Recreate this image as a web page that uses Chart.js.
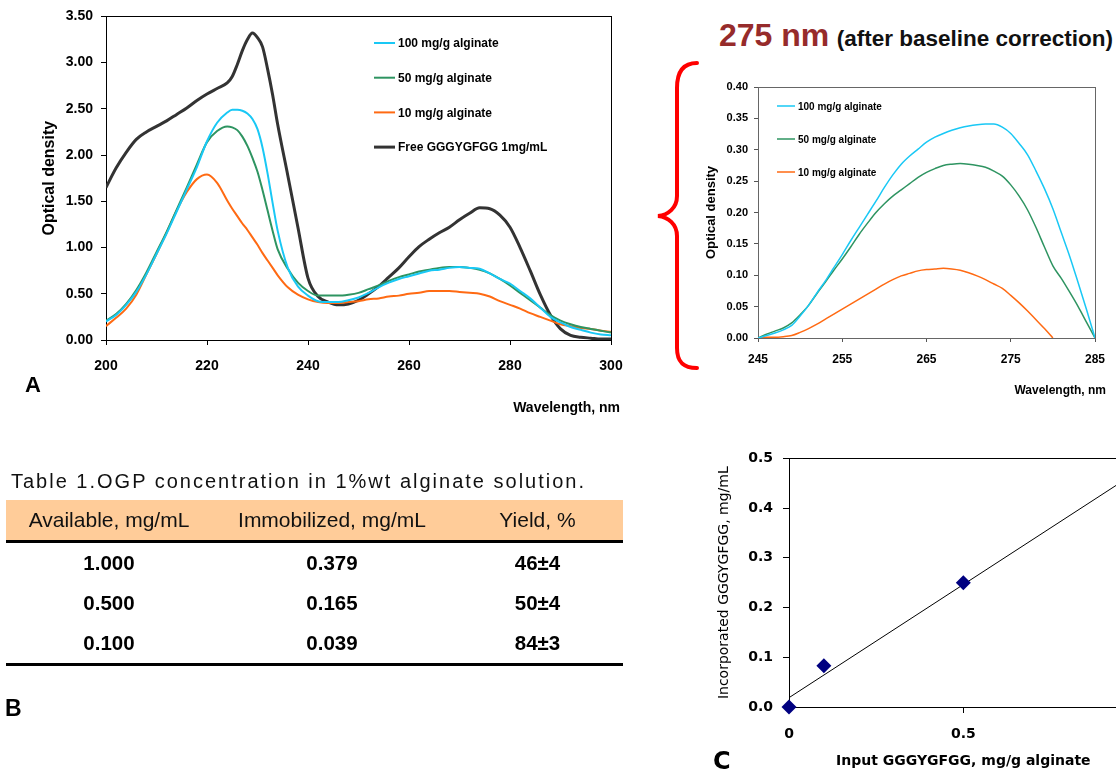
<!DOCTYPE html>
<html>
<head>
<meta charset="utf-8">
<title>OGP absorbance and incorporation in alginate</title>
<script src="https://cdn.jsdelivr.net/npm/chart.js"></script>
<style>
  html, body { margin: 0; padding: 0; overflow: hidden; }
  body { width: 1116px; height: 773px; position: relative; background: #fff;
         font-family: "Liberation Sans", Arial, sans-serif; color: #000; }
  canvas, .abs { position: absolute; }
  .panel { font-weight: bold; }
  #heading { left: 719px; top: 19px; line-height: 1; white-space: nowrap; font-weight: bold; }
  #heading .nm { color: #962b2b; font-size: 32px; margin-right: 3px; }
  #heading .rest { font-size: 22.5px; color: #111; }
  .xtitle { font-weight: bold; text-align: right; white-space: nowrap; }
  #tblTitle { left: 11px; top: 470px; font-size: 20px; letter-spacing: 2px; color: #111; white-space: nowrap; }
  #tbl { position: absolute; left: 6px; top: 500px; width: 617px; border-collapse: collapse; table-layout: fixed; }
  #tbl th { background: #ffcc99; height: 40px; padding: 0; font-weight: normal; font-size: 21px;
            border-bottom: 3px solid #000; text-align: center; color: #111; }
  #tbl td { height: 40px; padding: 0; text-align: center; font-weight: bold; font-size: 20.5px; }
  #tbl tbody tr:last-child td { border-bottom: 3px solid #000; }
</style>
</head>
<body>

<canvas id="spectrumChart" width="640" height="420" style="left:0;top:0"></canvas>
<canvas id="correctedChart" width="416" height="330" style="left:700px;top:70px"></canvas>
<canvas id="incorpChart" width="463" height="333" style="left:700px;top:440px"></canvas>

<div class="abs xtitle" style="left:480px;top:399px;width:140px;font-size:14px;line-height:16px">Wavelength, nm</div>
<div class="abs xtitle" style="left:986px;top:383px;width:120px;font-size:12px;line-height:14px">Wavelength, nm</div>

<div id="heading" class="abs"><span class="nm">275 nm</span> <span class="rest">(after baseline correction)</span></div>

<svg class="abs" style="left:0;top:0" width="1116" height="773">
  <path d="M697,63 C683,63 677,72 677,88 L677,196 C677,208 668,215 658,216 C668,217 677,224 677,236 L677,348 C677,362 683,368 697,368"
        fill="none" stroke="#ff0000" stroke-width="4" stroke-linecap="round"/>
</svg>

<div class="abs panel" style="left:25px;top:372px;font-size:22px">A</div>
<div class="abs panel" style="left:5px;top:695px;font-size:23px">B</div>
<div class="abs panel" style="left:713px;top:747px;font-size:24px;font-family:'DejaVu Sans',sans-serif">C</div>

<div id="tblTitle" class="abs">Table 1.OGP concentration in 1%wt alginate solution.</div>
<table id="tbl">
  <colgroup><col style="width:206px"><col style="width:240px"><col style="width:171px"></colgroup>
  <thead><tr><th>Available, mg/mL</th><th>Immobilized, mg/mL</th><th>Yield, %</th></tr></thead>
  <tbody id="tblBody"></tbody>
</table>

<script>
// ---- panel A: full UV spectra ----
var wavelengthA = [200,202,204,206,208,210,212,214,216,218,220,222,224,
                   225,226,227,228,229,230,231,232,233,234,
                   236,238,240,242,244,246,248,250,252,254,256,258,260,262,264,266,268,
                   270,272,274,276,278,280,282,284,286,288,290,292,294,296,298,300];
var od100 = [0.20,0.27,0.38,0.52,0.71,0.93,1.15,1.39,1.63,1.87,2.15,2.35,2.46,
             2.49,2.49,2.48,2.45,2.39,2.28,2.08,1.80,1.48,1.18,
             0.78,0.58,0.48,0.42,0.41,0.41,0.43,0.46,0.51,0.57,0.62,0.66,0.69,0.72,0.75,0.76,0.78,
             0.79,0.78,0.77,0.72,0.66,0.61,0.53,0.45,0.35,0.25,0.19,0.14,0.11,0.08,0.06,0.05];
var od50 = [0.21,0.28,0.39,0.54,0.73,0.95,1.17,1.41,1.65,1.90,2.14,2.26,2.31,
            2.30,2.27,2.20,2.10,1.97,1.82,1.62,1.40,1.18,0.98,
            0.77,0.62,0.53,0.48,0.48,0.48,0.49,0.51,0.55,0.59,0.64,0.68,0.71,0.74,0.76,0.78,0.79,
            0.79,0.78,0.76,0.72,0.66,0.59,0.51,0.43,0.35,0.27,0.21,0.17,0.14,0.12,0.10,0.08];
var od10 = [0.15,0.24,0.34,0.49,0.71,0.93,1.16,1.40,1.60,1.74,1.79,1.70,1.51,
            1.42,1.34,1.26,1.19,1.11,1.03,0.94,0.86,0.78,0.70,
            0.57,0.49,0.44,0.41,0.40,0.40,0.41,0.42,0.44,0.45,0.47,0.48,0.50,0.51,0.53,0.53,0.53,
            0.52,0.51,0.50,0.47,0.42,0.38,0.34,0.29,0.25,0.21,0.17,0.15,0.13,0.12,0.10,0.09];
var odFree = [1.65,1.86,2.03,2.17,2.25,2.31,2.37,2.44,2.51,2.59,2.66,2.72,2.78,
              2.85,2.98,3.13,3.25,3.32,3.27,3.17,2.93,2.65,2.33,
              1.78,1.22,0.67,0.47,0.41,0.38,0.39,0.43,0.50,0.58,0.68,0.78,0.90,1.01,1.09,1.16,1.22,
              1.30,1.37,1.43,1.42,1.35,1.22,1.00,0.75,0.49,0.27,0.12,0.05,0.03,0.02,0.01,0.01];
var ticksA = { xMin: 200, xMax: 300, xStep: 20, yMin: 0, yMax: 3.5, yStep: 0.5 };

// ---- panel A inset: 275 nm band after baseline correction ----
var wavelengthB = [245,246,247,248,249,250,251,252,253,254,255,256,257,258,259,260,261,262,263,264,265,
                   266,267,268,269,270,271,272,273,274,275,276,277,278,279,280,281,282,283,284,285];
var corr100 = [0.000,0.004,0.008,0.013,0.020,0.035,0.052,0.072,0.091,0.112,0.133,0.155,0.176,0.197,0.218,0.240,
               0.260,0.277,0.290,0.301,0.312,0.320,0.326,0.331,0.335,0.338,0.340,0.341,0.341,0.336,0.326,
               0.310,0.292,0.266,0.238,0.206,0.168,0.130,0.088,0.045,0.000];
var corr50 = [0.000,0.006,0.011,0.016,0.024,0.037,0.052,0.071,0.089,0.108,0.126,0.145,0.165,0.183,0.200,0.214,
              0.226,0.236,0.246,0.256,0.264,0.270,0.275,0.277,0.278,0.277,0.275,0.272,0.266,0.258,0.244,
              0.226,0.204,0.176,0.145,0.115,0.095,0.073,0.050,0.025,0.000];
var corr10 = [0.000,0.001,0.001,0.002,0.004,0.009,0.015,0.022,0.030,0.038,0.046,0.054,0.062,0.070,0.078,0.086,
              0.093,0.099,0.103,0.107,0.109,0.110,0.111,0.110,0.108,0.104,0.099,0.093,0.086,0.079,0.068,
              0.056,0.043,0.029,0.015,0.000,null,null,null,null,null];

// ---- panel B: table ----
var availableConc = ['1.000', '0.500', '0.100'];
var immobilizedConc = ['0.379', '0.165', '0.039'];
var yieldPct = ['46±4', '50±4', '84±3'];

// ---- panel C: incorporation ----
var inputConc = [0, 0.1, 0.5, 1.0];
var incorporated = [0, 0.083, 0.25, 0.47];

var tbody = document.getElementById('tblBody');
for (var i = 0; i < availableConc.length; i++) {
    var tr = document.createElement('tr');
    [availableConc[i], immobilizedConc[i], yieldPct[i]].forEach(function (t) {
        var td = document.createElement('td');
        td.textContent = t;
        tr.appendChild(td);
    });
    tbody.appendChild(tr);
}

function pairs(xs, ys) {
    return xs.map(function (x, i) { return { x: x, y: ys[i] }; });
}

// frame round the plot area
var boxPlugin = {
    id: 'box',
    beforeDatasetsDraw: function (chart, args, opts) {
        var a = chart.chartArea, ctx = chart.ctx;
        ctx.save();
        ctx.strokeStyle = opts.color || '#000';
        ctx.lineWidth = 1;
        ctx.strokeRect(Math.round(a.left) + 0.5, Math.round(a.top) + 0.5,
                       Math.round(a.right - a.left), Math.round(a.bottom - a.top));
        ctx.restore();
    }
};

// legend drawn inside the plot, one line per row
var lineLegend = {
    id: 'lineLegend',
    afterDraw: function (chart, args, opts) {
        var ctx = chart.ctx;
        ctx.save();
        ctx.font = opts.font;
        ctx.textBaseline = 'middle';
        ctx.fillStyle = '#000';
        chart.data.datasets.forEach(function (ds, i) {
            var y = opts.y + i * opts.gap;
            ctx.strokeStyle = ds.borderColor;
            ctx.lineWidth = ds.borderWidth;
            ctx.beginPath();
            ctx.moveTo(opts.x, y);
            ctx.lineTo(opts.x + opts.len, y);
            ctx.stroke();
            ctx.fillText(ds.label, opts.x + opts.len + 3, y + 1);
        });
        ctx.restore();
    }
};

Chart.defaults.color = '#000';
Chart.defaults.animation = false;

function axisStyle(color) {
    return {
        grid: { drawOnChartArea: false, drawTicks: true, tickLength: 5, color: color },
        border: { color: color, width: 1 }
    };
}

var arial = '"Liberation Sans", Arial, sans-serif';

window.onload = function () {

    var gA = axisStyle('#000');
    new Chart(document.getElementById('spectrumChart').getContext('2d'), {
        type: 'line',
        data: {
            datasets: [
                { label: '100 mg/g alginate', data: pairs(wavelengthA, od100), borderColor: '#19c8f5', borderWidth: 2 },
                { label: '50 mg/g alginate', data: pairs(wavelengthA, od50), borderColor: '#2e9461', borderWidth: 2 },
                { label: '10 mg/g alginate', data: pairs(wavelengthA, od10), borderColor: '#ff6a13', borderWidth: 2 },
                { label: 'Free GGGYGFGG 1mg/mL', data: pairs(wavelengthA, odFree), borderColor: '#333333', borderWidth: 3 }
            ]
        },
        options: {
            responsive: false,
            elements: { point: { radius: 0 }, line: { cubicInterpolationMode: 'monotone' } },
            layout: { padding: { top: 15, right: 29, left: 0, bottom: 0 } },
            plugins: {
                legend: { display: false },
                tooltip: { enabled: false },
                box: { color: '#000' },
                lineLegend: { x: 374, y: 43, gap: 34.7, len: 21, font: 'bold 12px ' + arial }
            },
            scales: {
                x: {
                    type: 'linear', min: ticksA.xMin, max: ticksA.xMax,
                    ticks: { stepSize: ticksA.xStep, padding: 13, font: { family: arial, size: 14, weight: 'bold' } },
                    grid: gA.grid, border: gA.border,
                    afterFit: function (s) { s.height = 80; }
                },
                y: {
                    min: ticksA.yMin, max: ticksA.yMax,
                    ticks: { stepSize: ticksA.yStep, padding: 8, font: { family: arial, size: 14, weight: 'bold' },
                             callback: function (v) { return v.toFixed(2); } },
                    grid: gA.grid, border: gA.border,
                    title: { display: true, text: 'Optical density', padding: { top: 40 },
                             font: { family: arial, size: 16, weight: 'bold' } },
                    afterFit: function (s) { s.width = 106; }
                }
            }
        },
        plugins: [boxPlugin, lineLegend]
    });

    var gB = axisStyle('#555');
    gB.grid.tickLength = 4;
    new Chart(document.getElementById('correctedChart').getContext('2d'), {
        type: 'line',
        data: {
            datasets: [
                { label: '100 mg/g alginate', data: pairs(wavelengthB, corr100), borderColor: '#19c8f5', borderWidth: 1.5 },
                { label: '50 mg/g alginate', data: pairs(wavelengthB, corr50), borderColor: '#2e9461', borderWidth: 1.5 },
                { label: '10 mg/g alginate', data: pairs(wavelengthB, corr10), borderColor: '#ff6a13', borderWidth: 1.5 }
            ]
        },
        options: {
            responsive: false,
            elements: { point: { radius: 0 }, line: { cubicInterpolationMode: 'monotone' } },
            layout: { padding: { top: 17, right: 21, left: 0, bottom: 0 } },
            plugins: {
                legend: { display: false },
                tooltip: { enabled: false },
                box: { color: '#666' },
                lineLegend: { x: 77, y: 36, gap: 33, len: 18, font: 'bold 10px ' + arial }
            },
            scales: {
                x: {
                    type: 'linear', min: 245, max: 285,
                    ticks: { stepSize: 10, padding: 10, font: { family: arial, size: 12, weight: 'bold' } },
                    grid: gB.grid, border: gB.border,
                    afterFit: function (s) { s.height = 62; }
                },
                y: {
                    min: 0, max: 0.4,
                    ticks: { stepSize: 0.05, padding: 6, font: { family: arial, size: 11, weight: 'bold' },
                             callback: function (v) { return v.toFixed(2); } },
                    grid: gB.grid, border: gB.border,
                    title: { display: true, text: 'Optical density', padding: { top: 4 },
                             font: { family: arial, size: 13, weight: 'bold' } },
                    afterFit: function (s) { s.width = 58; }
                }
            }
        },
        plugins: [boxPlugin, lineLegend]
    });

    // least-squares trend line through the points
    var n = inputConc.length, mx = 0, my = 0;
    for (var k = 0; k < n; k++) { mx += inputConc[k] / n; my += incorporated[k] / n; }
    var sxy = 0, sxx = 0;
    for (k = 0; k < n; k++) { sxy += (inputConc[k] - mx) * (incorporated[k] - my); sxx += Math.pow(inputConc[k] - mx, 2); }
    var slope = sxy / sxx, icept = my - slope * mx;
    var fitX = [0, 1];
    var fitY = fitX.map(function (x) { return icept + slope * x; });

    var dv = '"DejaVu Sans", Verdana, sans-serif';
    var gC = axisStyle('#000');
    gC.grid.tickLength = 6;
    new Chart(document.getElementById('incorpChart').getContext('2d'), {
        type: 'scatter',
        data: {
            datasets: [
                { label: 'Incorporated', data: pairs(inputConc, incorporated), pointStyle: 'rectRot',
                  pointRadius: 7.5, backgroundColor: '#000080', borderColor: '#000080', borderWidth: 0, clip: false },
                { type: 'line', label: 'Linear fit', data: pairs(fitX, fitY), borderColor: '#000',
                  borderWidth: 1, pointRadius: 0, tension: 0 }
            ]
        },
        options: {
            responsive: false,
            layout: { padding: { top: 17, right: 14, left: 0, bottom: 0 } },
            plugins: { legend: { display: false }, tooltip: { enabled: false }, box: { color: '#000' } },
            scales: {
                x: {
                    type: 'linear', min: 0, max: 1,
                    ticks: { stepSize: 0.5, padding: 13, font: { family: dv, size: 14, weight: 'bold' } },
                    grid: gC.grid, border: gC.border,
                    title: { display: true, text: 'Input GGGYGFGG, mg/g alginate', padding: { bottom: 3, top: 0 },
                             font: { family: dv, size: 14, weight: 'bold' } },
                    afterFit: function (s) { s.height = 66; }
                },
                y: {
                    min: 0, max: 0.5,
                    ticks: { stepSize: 0.1, padding: 10, font: { family: dv, size: 14, weight: 'bold' },
                             callback: function (v) { return v.toFixed(1); } },
                    grid: gC.grid, border: gC.border,
                    title: { display: true, text: 'Incorporated GGGYGFGG, mg/mL', padding: { top: 16 },
                             font: { family: dv, size: 14 } },
                    afterFit: function (s) { s.width = 89; }
                }
            }
        },
        plugins: [boxPlugin]
    });
};
</script>
</body>
</html>
